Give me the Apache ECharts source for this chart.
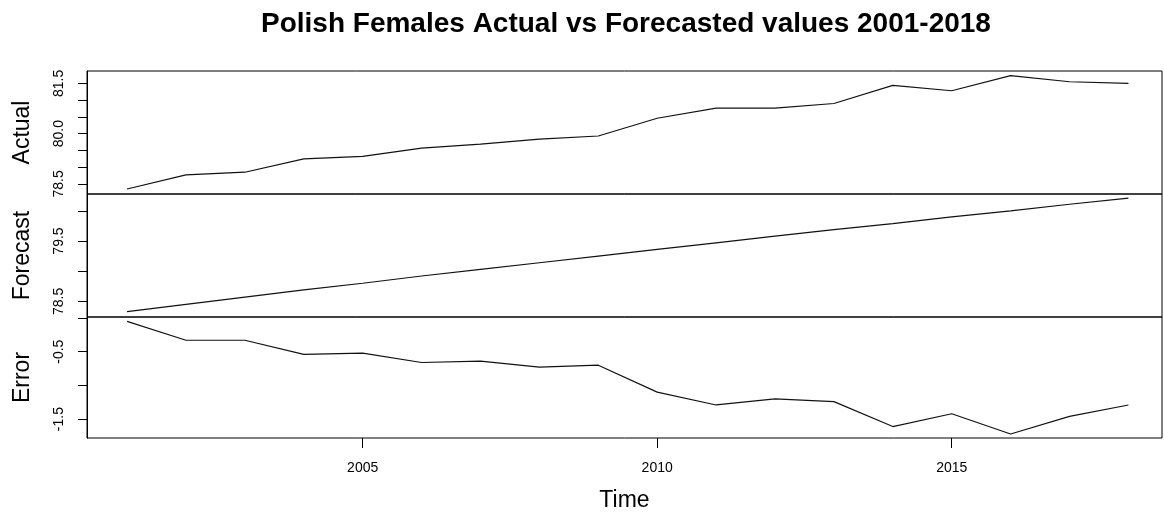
<!DOCTYPE html>
<html>
<head>
<meta charset="utf-8">
<script src="https://cdn.jsdelivr.net/npm/echarts@6/dist/echarts.min.js"></script>
<style>
  html, body { margin: 0; padding: 0; background: #fff; }
  #chart { width: 1164px; height: 515px; }
</style>
</head>
<body>
<div id="chart"></div>
<script>
// years of the series
const years = [2001, 2002, 2003, 2004, 2005, 2006, 2007, 2008, 2009,
  2010, 2011, 2012, 2013, 2014, 2015, 2016, 2017, 2018]

// values
const actual = [78.35, 78.77, 78.85, 79.25, 79.32, 79.57, 79.69, 79.84, 79.93,
  80.46, 80.76, 80.76, 80.90, 81.44, 81.28, 81.73, 81.55, 81.50]
const forecast = [78.33, 78.45, 78.57, 78.69, 78.80, 78.92, 79.03, 79.14, 79.25,
  79.36, 79.47, 79.58, 79.69, 79.79, 79.90, 80.00, 80.11, 80.21]
const error = [-0.05, -0.33, -0.33, -0.54, -0.52, -0.66, -0.64, -0.73, -0.70,
  -1.10, -1.29, -1.20, -1.24, -1.61, -1.42, -1.72, -1.46, -1.29]

// ticks and the labels that show
const timeTicks = [2005, 2010, 2015]
const actualTicks = [78.5, 79.0, 79.5, 80.0, 80.5, 81.0, 81.5]
const actualLabels = [78.5, 80.0, 81.5]
const forecastTicks = [78.5, 79.0, 79.5, 80.0]
const forecastLabels = [78.5, 79.5]
const errorTicks = [-1.5, -1.0, -0.5, 0.0]
const errorLabels = [-1.5, -0.5]

const chart = echarts.init(document.getElementById('chart'))

const pairs = (vals) => years.map((y, i) => [y, vals[i]])

const font = 'Liberation Sans, Arial, sans-serif'

function yAxis (idx, name, min, max, ticks, labels) {
  return {
    type: 'value',
    gridIndex: idx,
    min: min,
    max: max,
    name: name,
    nameLocation: 'middle',
    nameGap: 53,
    nameTextStyle: { fontFamily: font, fontSize: 23, color: '#000' },
    splitLine: { show: false },
    axisLine: { show: true, onZero: false, lineStyle: { color: '#000', width: 1 } },
    axisTick: { show: true, length: 9, customValues: ticks, lineStyle: { color: '#000' } },
    axisLabel: {
      show: true,
      rotate: 90,
      margin: 21,
      customValues: labels,
      formatter: (v) => v.toFixed(1),
      fontFamily: font,
      fontSize: 14,
      color: '#000'
    }
  }
}

function xAxis (idx, bottom) {
  return {
    type: 'value',
    gridIndex: idx,
    position: 'bottom',
    min: 2000.32,
    max: 2018.57,
    splitLine: { show: false },
    axisLine: { show: false, onZero: false },
    axisTick: bottom ? { show: true, length: 10, customValues: timeTicks, lineStyle: { color: '#000' } } : { show: false },
    axisLabel: bottom ? {
      show: true,
      margin: 23,
      customValues: timeTicks,
      formatter: (v) => String(v),
      fontFamily: font,
      fontSize: 14,
      color: '#000'
    } : { show: false },
    name: bottom ? 'Time' : '',
    nameLocation: 'middle',
    nameGap: 51,
    nameTextStyle: { fontFamily: font, fontSize: 23, color: '#000' }
  }
}

const lineSeries = (idx, vals) => ({
  type: 'line',
  xAxisIndex: idx,
  yAxisIndex: idx,
  data: pairs(vals),
  showSymbol: false,
  symbol: 'none',
  lineStyle: { color: '#111', width: 1.2 },
  silent: true
})

const panel = (top, height) => ({
  left: 87,
  right: 2,
  top: top,
  height: height,
  show: true,
  borderColor: '#000',
  borderWidth: 1,
  backgroundColor: 'transparent',
  containLabel: false,
  outerBoundsMode: 'none'
})

const option = {
  animation: false,
  backgroundColor: '#fff',
  title: {
    text: 'Polish Females Actual vs Forecasted values 2001-2018',
    left: 256,
    top: 5,
    textStyle: { fontFamily: font, fontSize: 28, fontWeight: 'bold', color: '#000' }
  },
  grid: [panel(71, 123), panel(194, 123), panel(317, 121)],
  xAxis: [xAxis(0, false), xAxis(1, false), xAxis(2, true)],
  yAxis: [
    yAxis(0, 'Actual', 78.2, 81.87, actualTicks, actualLabels),
    yAxis(1, 'Forecast', 78.24, 80.28, forecastTicks, forecastLabels),
    yAxis(2, 'Error', -1.78, 0.015, errorTicks, errorLabels)
  ],
  series: [
    lineSeries(0, actual),
    lineSeries(1, forecast),
    lineSeries(2, error)
  ]
}

chart.setOption(option)
</script>
</body>
</html>
